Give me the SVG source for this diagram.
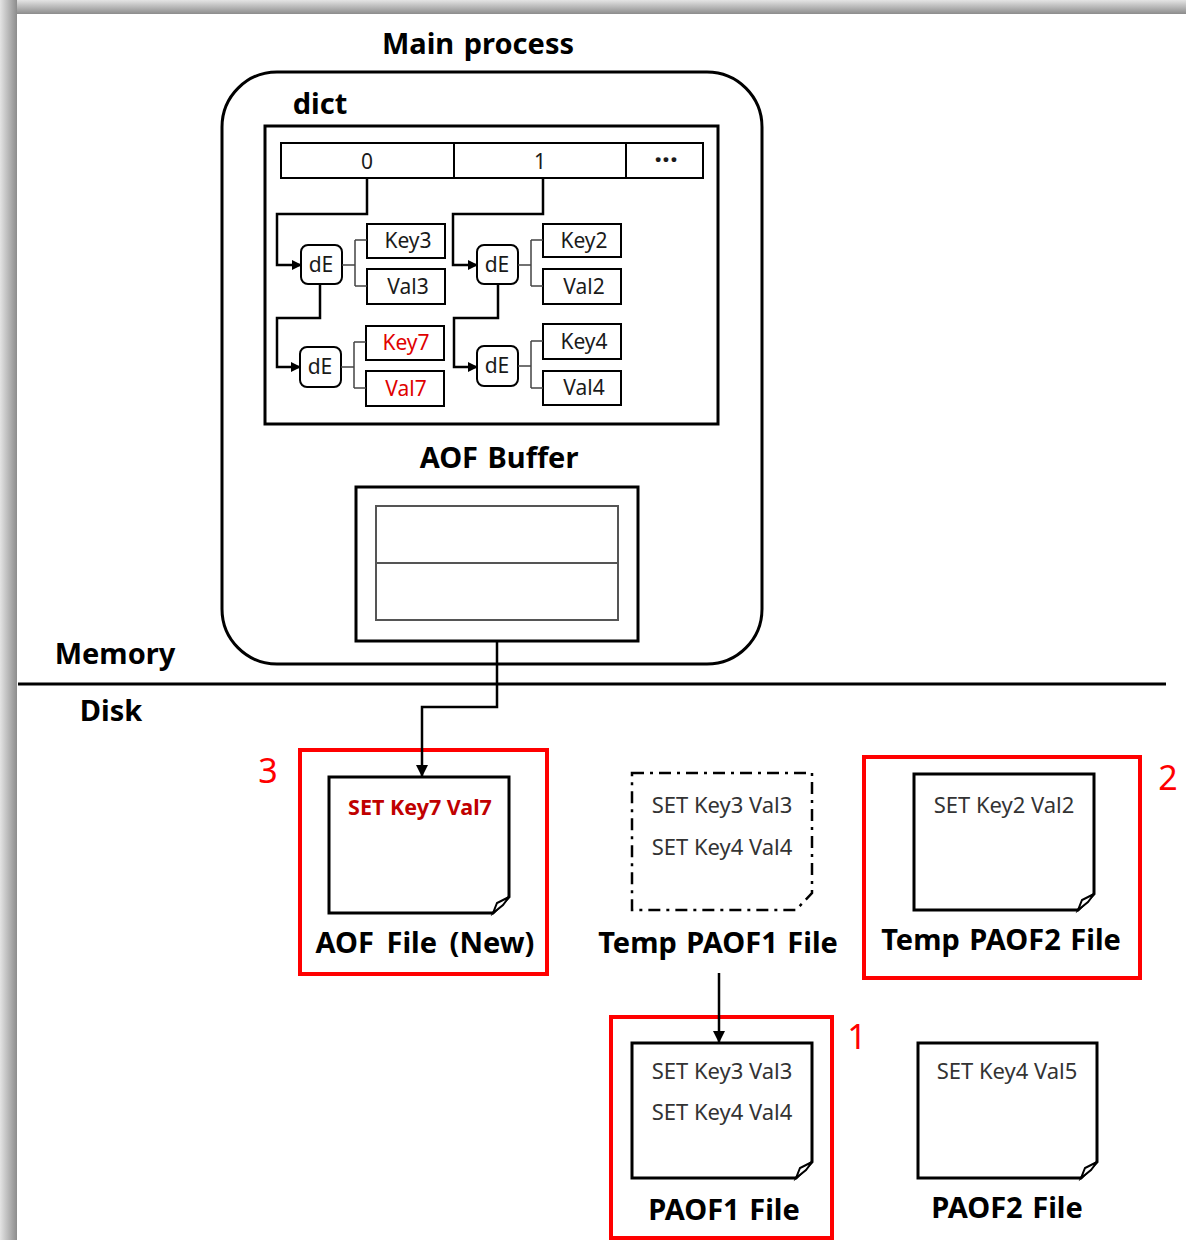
<svg xmlns="http://www.w3.org/2000/svg" width="1186" height="1240" viewBox="0 0 1186 1240">
<defs>
<linearGradient id="gTop" x1="0" y1="0" x2="0" y2="1"><stop offset="0" stop-color="#e4e4e4"/><stop offset="1" stop-color="#8c8c8c"/></linearGradient>
<linearGradient id="gLeft" x1="0" y1="0" x2="1" y2="0"><stop offset="0" stop-color="#e4e4e4"/><stop offset="1" stop-color="#8c8c8c"/></linearGradient>
<marker id="arr" markerWidth="10" markerHeight="10" refX="9" refY="5" orient="auto" markerUnits="userSpaceOnUse"><path d="M0,0 L10,5 L0,10 Z" fill="#000"/></marker>
<marker id="arr2" markerWidth="12" markerHeight="12" refX="11" refY="6" orient="auto" markerUnits="userSpaceOnUse"><path d="M0,0 L12,6 L0,12 Z" fill="#000"/></marker>
<style>
.bl{font-family:"Noto Sans","Open Sans","Liberation Sans",sans-serif;font-weight:bold;font-size:29px;word-spacing:2px;fill:#000;text-anchor:middle}
.nl{font-family:"Noto Sans","Open Sans","Liberation Sans",sans-serif;font-size:21px;fill:#1a1a1a;text-anchor:middle}
.cl{font-family:"Noto Sans","Open Sans","Liberation Sans",sans-serif;font-size:22px;fill:#333;text-anchor:middle}
.red{fill:#e00000}
.box{fill:#fff;stroke:#000;stroke-width:2}
.thick{fill:none;stroke:#000;stroke-width:3}
.conn{fill:none;stroke:#000;stroke-width:2.5}
.thin{fill:none;stroke:#444;stroke-width:1.5}
.doc{fill:#fff;stroke:#000;stroke-width:3;stroke-linejoin:miter}
.rbox{fill:none;stroke:#ff0000;stroke-width:4}
.num{font-family:"Noto Sans","Open Sans","Liberation Sans",sans-serif;font-size:34px;fill:#ff0000;text-anchor:middle}
</style>
</defs>
<rect x="0" y="0" width="1186" height="1240" fill="#fff"/>
<rect x="0" y="0" width="1186" height="14" fill="url(#gTop)"/>
<rect x="0" y="0" width="17" height="1240" fill="url(#gLeft)"/>

<g id="main-process">
<text class="bl" x="478" y="54">Main process</text>
<rect x="222" y="72" width="540" height="592" rx="55" ry="55" class="thick"/>
</g>

<g id="dict">
<text class="bl" x="320" y="114">dict</text>
<rect x="265" y="126" width="453" height="298" class="thick"/>
<rect x="281" y="143" width="422" height="35" class="box"/>
<line x1="454" y1="143" x2="454" y2="178" stroke="#000" stroke-width="2"/>
<line x1="626" y1="143" x2="626" y2="178" stroke="#000" stroke-width="2"/>
<text class="nl" x="367" y="169">0</text>
<text class="nl" x="540" y="169">1</text>
<text class="nl" x="666" y="170" style="font-weight:bold;font-size:28px">···</text>
</g>

<g id="dE1"><rect x="301" y="245" width="41" height="39" rx="7" class="box"/><text class="nl" x="321" y="272">dE</text></g>
<g id="Key3"><rect x="367" y="224" width="78" height="34" class="box"/><text class="nl" x="408" y="248">Key3</text></g>
<g id="Val3"><rect x="367" y="269" width="78" height="35" class="box"/><text class="nl" x="408" y="294">Val3</text></g>
<g id="dE3"><rect x="300" y="347" width="41" height="40" rx="7" class="box"/><text class="nl" x="320" y="374">dE</text></g>
<g id="Key7"><rect x="366" y="326" width="78" height="34" class="box"/><text class="nl red" x="406" y="350">Key7</text></g>
<g id="Val7"><rect x="366" y="371" width="78" height="35" class="box"/><text class="nl red" x="406" y="396">Val7</text></g>
<g id="dE2"><rect x="477" y="245" width="41" height="39" rx="7" class="box"/><text class="nl" x="497" y="272">dE</text></g>
<g id="Key2"><rect x="543" y="224" width="78" height="33" class="box"/><text class="nl" x="584" y="248">Key2</text></g>
<g id="Val2"><rect x="543" y="269" width="78" height="35" class="box"/><text class="nl" x="584" y="294">Val2</text></g>
<g id="dE4"><rect x="477" y="346" width="41" height="40" rx="7" class="box"/><text class="nl" x="497" y="373">dE</text></g>
<g id="Key4"><rect x="543" y="324" width="78" height="35" class="box"/><text class="nl" x="584" y="349">Key4</text></g>
<g id="Val4"><rect x="543" y="371" width="78" height="34" class="box"/><text class="nl" x="584" y="395">Val4</text></g>

<g id="aof-buffer">
<text class="bl" x="499" y="468">AOF Buffer</text>
<rect x="356" y="487" width="282" height="154" class="thick"/>
<rect x="376" y="506" width="242" height="114" fill="none" stroke="#555" stroke-width="2"/>
<line x1="376" y1="563" x2="618" y2="563" stroke="#555" stroke-width="2"/>
</g>

<g id="divider">
<line x1="18" y1="684" x2="1166" y2="684" stroke="#000" stroke-width="3"/>
<text class="bl" x="115" y="664">Memory</text>
<text class="bl" x="111" y="721">Disk</text>
</g>

<g id="aof-file">
<rect x="300" y="750" width="247" height="224" class="rbox"/>
<text class="num" x="268" y="783">3</text>
<path class="doc" d="M329,777 H509 V897 L493,913 H329 Z"/>
<path d="M493,913 L497,903 L509,897 L503,905 Z" fill="#fff" stroke="#000" stroke-width="2"/>
<text class="nl" x="420" y="815" style="font-weight:bold;font-size:21.5px;fill:#c00000">SET Key7 Val7</text>
<text class="bl" x="425" y="953" style="word-spacing:5px">AOF File (New)</text>
</g>

<g id="temp-paof1">
<path d="M632,773 H812 V893 L796,910 H632 Z" fill="#fff" stroke="#000" stroke-width="2.5" stroke-dasharray="12,6,3,6"/>
<text class="cl" x="722" y="813">SET Key3 Val3</text>
<text class="cl" x="722" y="855">SET Key4 Val4</text>
<text class="bl" x="718" y="953">Temp PAOF1 File</text>
</g>

<g id="temp-paof2">
<rect x="864" y="757" width="276" height="221" class="rbox"/>
<text class="num" x="1168" y="790">2</text>
<path class="doc" d="M914,774 H1094 V894 L1078,910 H914 Z"/>
<path d="M1078,910 L1082,900 L1094,894 L1088,902 Z" fill="#fff" stroke="#000" stroke-width="2"/>
<text class="cl" x="1004" y="813">SET Key2 Val2</text>
<text class="bl" x="1001" y="950">Temp PAOF2 File</text>
</g>

<g id="paof1">
<rect x="611" y="1017" width="221" height="221" class="rbox"/>
<text class="num" x="857" y="1049">1</text>
<path class="doc" d="M632,1043 H812 V1162 L796,1178 H632 Z"/>
<path d="M796,1178 L800,1168 L812,1162 L806,1170 Z" fill="#fff" stroke="#000" stroke-width="2"/>
<text class="cl" x="722" y="1079">SET Key3 Val3</text>
<text class="cl" x="722" y="1120">SET Key4 Val4</text>
<text class="bl" x="724" y="1220">PAOF1 File</text>
</g>

<g id="paof2">
<path class="doc" d="M918,1043 H1097 V1162 L1081,1178 H918 Z"/>
<path d="M1081,1178 L1085,1168 L1097,1162 L1091,1170 Z" fill="#fff" stroke="#000" stroke-width="2"/>
<text class="cl" x="1007" y="1079">SET Key4 Val5</text>
<text class="bl" x="1007" y="1218">PAOF2 File</text>
</g>

<g id="connectors">
<path class="conn" d="M367,178 V214 H277 V265 H301" marker-end="url(#arr)"/>
<path class="conn" d="M320,284 V318 H277 V367 H300" marker-end="url(#arr)"/>
<path class="conn" d="M543,178 V214 H453 V265 H477" marker-end="url(#arr)"/>
<path class="conn" d="M498,284 V318 H454 V367 H477" marker-end="url(#arr)"/>
<path class="thin" d="M342,265 H355 M355,240 V286 M355,240 H367 M355,286 H367"/>
<path class="thin" d="M341,367 H354 M354,342 V388 M354,342 H366 M354,388 H366"/>
<path class="thin" d="M518,265 H531 M531,240 V286 M531,240 H543 M531,286 H543"/>
<path class="thin" d="M518,366 H531 M531,341 V388 M531,341 H543 M531,388 H543"/>
<path class="conn" d="M497,641 V707 H422 V776" marker-end="url(#arr2)"/>
<path class="conn" d="M719,973 V1042" marker-end="url(#arr2)"/>
</g>
</svg>
